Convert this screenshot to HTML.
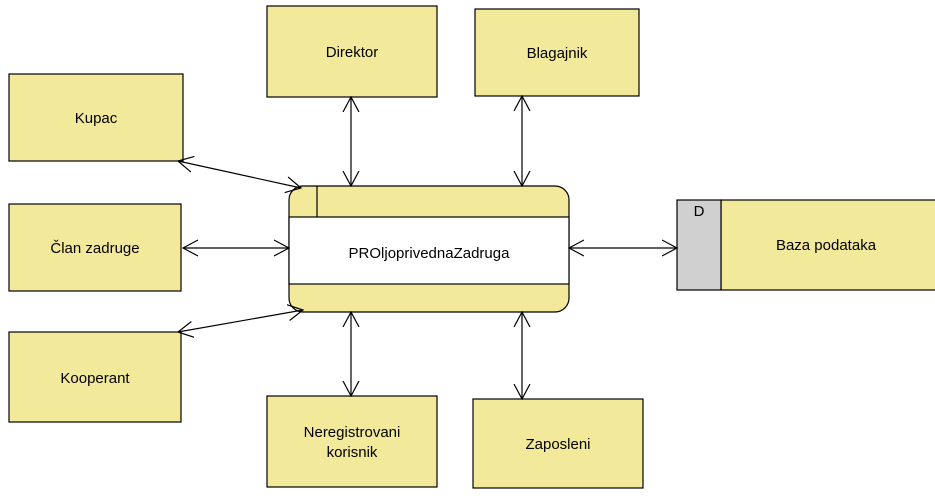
<!DOCTYPE html>
<html><head><style>body{margin:0;background:#fff}</style></head><body>
<svg width="935" height="498" xmlns="http://www.w3.org/2000/svg" font-family="Liberation Sans, sans-serif" font-size="15">
<defs><marker id="a" viewBox="0 0 16 18" refX="15" refY="9" markerWidth="16" markerHeight="18" orient="auto-start-reverse" markerUnits="userSpaceOnUse"><path d="M0,1 L15,9 L0,17" fill="none" stroke="#000" stroke-width="1.2"/></marker></defs>
<g fill="#f3e99b" stroke="#000" stroke-width="1.2">
<rect x="9" y="74" width="174" height="87"/>
<rect x="9" y="204" width="172" height="87"/>
<rect x="9" y="332" width="172" height="90"/>
<rect x="267" y="6" width="170" height="91"/>
<rect x="475" y="9" width="164" height="87"/>
<rect x="267" y="396" width="170" height="91"/>
<rect x="473" y="399" width="170" height="89"/>
<rect x="721" y="200" width="220" height="90"/>
<rect x="677" y="200" width="44" height="90" fill="#d0d0d0"/>
<rect x="289" y="186" width="280" height="126" rx="14"/>
<rect x="289" y="217" width="280" height="67" fill="#fff"/>
<line x1="317" y1="186" x2="317" y2="217"/>
</g>
<g stroke="#000" stroke-width="1.2" fill="none" marker-start="url(#a)" marker-end="url(#a)">
<line x1="178" y1="161" x2="301" y2="188"/>
<line x1="183" y1="248" x2="289" y2="248"/>
<line x1="178" y1="332" x2="303" y2="310"/>
<line x1="351" y1="97" x2="351" y2="186"/>
<line x1="522" y1="96" x2="522" y2="186"/>
<line x1="351" y1="312" x2="351" y2="396"/>
<line x1="522" y1="312" x2="522" y2="399"/>
<line x1="569" y1="248" x2="677" y2="248"/>
</g>
<g text-anchor="middle" fill="#000">
<text x="96" y="123">Kupac</text>
<text x="95" y="253">Član zadruge</text>
<text x="95" y="383">Kooperant</text>
<text x="352" y="57">Direktor</text>
<text x="557" y="58">Blagajnik</text>
<text x="352" y="437">Neregistrovani</text>
<text x="352" y="457">korisnik</text>
<text x="558" y="449">Zaposleni</text>
<text x="429" y="258">PROljoprivednaZadruga</text>
<text x="826" y="250">Baza podataka</text>
<text x="699" y="216">D</text>
</g>
</svg>
</body></html>
